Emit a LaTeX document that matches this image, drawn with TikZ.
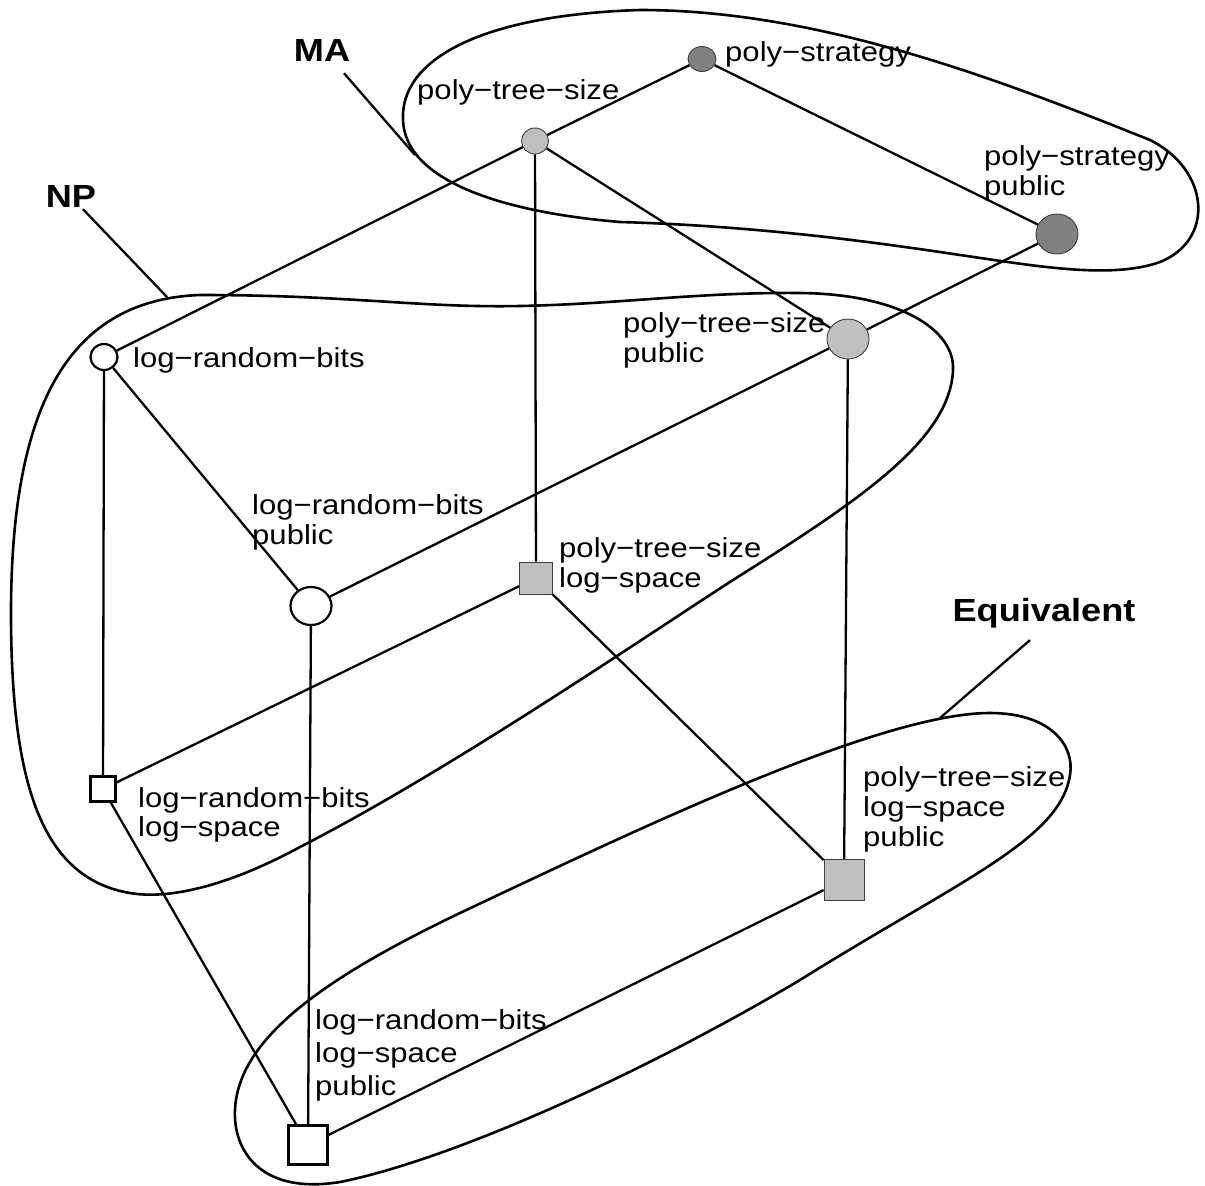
\documentclass[tikz,border=0pt]{standalone}
\usepackage{fontspec}
\setmainfont{Liberation Sans}[FakeStretch=1.13]
\usetikzlibrary{shapes.geometric}
\begin{document}
\begin{tikzpicture}[x=1pt,y=-1pt,
  edge/.style={line width=2.3pt},
  blob/.style={line width=2.6pt},
  grayfill/.style={draw=black!75, line width=0.9pt, inner sep=0pt},
  whitefill/.style={draw=black, fill=white, line width=2.2pt, inner sep=0pt},
  dark/.style={grayfill, ellipse, fill=black!50},
  light/.style={grayfill, ellipse, fill=black!25},
  lightsq/.style={grayfill, rectangle, fill=black!25},
  wcirc/.style={whitefill, ellipse},
  wsq/.style={whitefill, rectangle},
  lbl/.style={anchor=north west, inner sep=0pt, align=left, font=\fontsize{27.5}{30}\selectfont},
  setlbl/.style={inner sep=0pt, font=\fontsize{32}{36}\selectfont\bfseries}
]
\useasboundingbox (0,0) rectangle (1205,1186);

% nodes
\node[dark, minimum width=28, minimum height=25] (ps) at (702,59) {};
\node[light, minimum width=27, minimum height=26] (pts) at (535,141) {};
\node[dark, minimum width=42, minimum height=40] (psp) at (1057,234) {};
\node[light, minimum width=42, minimum height=40] (ptsp) at (848,339) {};
\node[wcirc, minimum width=27, minimum height=26] (lrb) at (104,357) {};
\node[wcirc, minimum width=41, minimum height=38] (lrbp) at (311,606) {};
\node[lightsq, minimum width=33, minimum height=32] (ptsl) at (536,578) {};
\node[wsq, minimum width=25, minimum height=25] (lrbl) at (103,789) {};
\node[lightsq, minimum width=40, minimum height=41] (ptslp) at (844,880) {};
\node[wsq, minimum width=39, minimum height=39] (lrblp) at (308,1145) {};

% labels
\node[lbl] (tps) at (725,41) {poly−strategy};
\node[lbl] (tpts) at (417,79) {poly−tree−size};
\node[lbl] (tpsp) at (984,145) {poly−strategy\\public};
\node[lbl] (tlrb) at (133,347) {log−random−bits};
\node[lbl] (tptsp) at (623,312) {poly−tree−size\\public};
\node[lbl] (tlrbp) at (252,494) {log−random−bits\\public};
\node[lbl] (tptsl) at (559,537) {poly−tree−size\\log−space};
\node[lbl] (tlrbl) at (138,787) {log−random−bits\\[-1pt]log−space};
\node[lbl] (tptslp) at (863,766) {poly−tree−size\\log−space\\public};
\node[lbl] (tlrblp) at (315,1009) {log−random−bits\\[3pt]log−space\\[3pt]public};

\node[setlbl] (ma) at (322,50) {MA};
\node[setlbl] (np) at (71,196) {NP};
\node[setlbl] (eq) at (1044,613) {Equivalent};

% edges
\draw[edge] (ps) -- (pts);
\draw[edge] (ps) -- (psp);
\draw[edge] (pts) -- (lrb);
\draw[edge] (pts) -- (ptsl);
\draw[edge] (pts) -- (ptsp);
\draw[edge] (psp) -- (ptsp);
\draw[edge] (lrb) -- (lrbp);
\draw[edge] (lrb) -- (lrbl);
\draw[edge] (ptsp) -- (lrbp);
\draw[edge] (ptsp) -- (ptslp);
\draw[edge] (lrbp) -- (lrblp);
\draw[edge] (ptsl) -- (lrbl);
\draw[edge] (ptsl) -- (ptslp);
\draw[edge] (lrbl) -- (lrblp);
\draw[edge] (ptslp) -- (lrblp);

% set outlines
\draw[blob] (403,120) .. controls (400,60) and (480,15) .. (640,10)
  .. controls (820,10) and (1000,80) .. (1150,140)
  .. controls (1210,170) and (1215,240) .. (1160,262)
  .. controls (1110,280) and (1030,265) .. (960,255)
  .. controls (880,243) and (760,226) .. (620,222)
  .. controls (500,212) and (405,180) .. (403,120) -- cycle;
\draw[blob] (200,295) .. controls (350,295) and (420,308) .. (520,306)
  .. controls (620,304) and (700,292) .. (800,293)
  .. controls (900,294) and (955,330) .. (953,370)
  .. controls (950,440) and (860,500) .. (733,580)
  .. controls (640,640) and (450,770) .. (300,847)
  .. controls (230,885) and (170,900) .. (130,893)
  .. controls (40,878) and (12,780) .. (11,620)
  .. controls (10,420) and (60,300) .. (200,295) -- cycle;
\draw[blob] (990,713) .. controls (1050,713) and (1075,745) .. (1070,775)
  .. controls (1060,840) and (960,880) .. (800,980)
  .. controls (640,1075) and (450,1160) .. (340,1182)
  .. controls (260,1195) and (233,1150) .. (235,1110)
  .. controls (238,1040) and (320,980) .. (460,913)
  .. controls (640,828) and (880,713) .. (990,713) -- cycle;

% pointers
\coordinate (mae) at (415,155);
\coordinate (npe) at (167,297);
\coordinate (eqe) at (940,718);
\draw[edge] (ma.south) ++(22,12) coordinate (mas) -- (mae);
\draw[edge] (np.south) ++(12,2) coordinate (nps) -- (npe);
\draw[edge] (eq.south) ++(-14,12) coordinate (eqs) -- (eqe);
\end{tikzpicture}
\end{document}
